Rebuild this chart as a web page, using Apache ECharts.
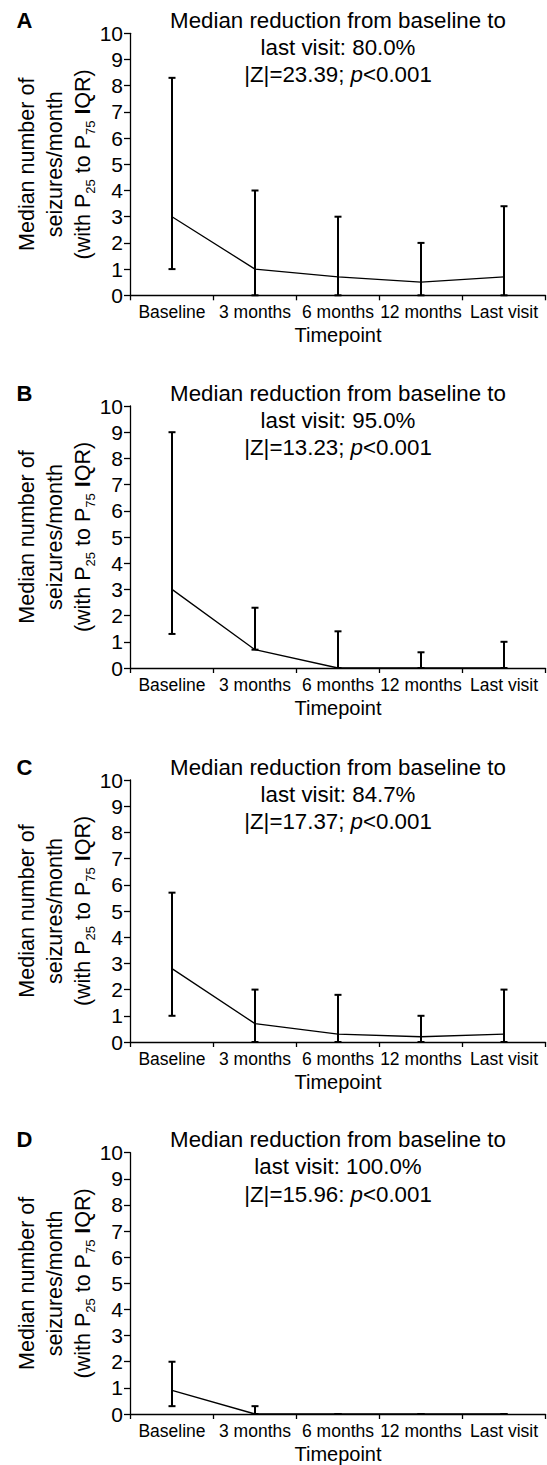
<!DOCTYPE html>
<html>
<head>
<meta charset="utf-8">
<style>
html,body{margin:0;padding:0;background:#fff;}
#chart{width:547px;height:1465px;}
</style>
<script src="https://cdn.jsdelivr.net/npm/echarts@6/dist/echarts.min.js"></script>
</head>
<body>
<div id="chart"></div>
<script>
// ---- data ----
const categories = ['Baseline', '3 months', '6 months', '12 months', 'Last visit'];
const panelLetters = ['A', 'B', 'C', 'D'];
const reductionPct = ['80.0%', '95.0%', '84.7%', '100.0%'];
const zStats = ['23.39', '13.23', '17.37', '15.96'];
const zSep = [';', ';', ';', ':'];
const pText = ['<0.001', '<0.001', '<0.001', '<0.001'];

const medianA = [3.0, 1.0, 0.7, 0.5, 0.7];
const p25A    = [1.0, 0.0, 0.0, 0.0, 0.0];
const p75A    = [8.3, 4.0, 3.0, 2.0, 3.4];

const medianB = [3.0, 0.7, 0.0, 0.0, 0.0];
const p25B    = [1.3, 0.7, 0.0, 0.0, 0.0];
const p75B    = [9.0, 2.3, 1.4, 0.6, 1.0];

const medianC = [2.8, 0.7, 0.3, 0.2, 0.3];
const p25C    = [1.0, 0.0, 0.0, 0.0, 0.0];
const p75C    = [5.7, 2.0, 1.8, 1.0, 2.0];

const medianD = [0.9, 0.0, 0.0, 0.0, 0.0];
const p25D    = [0.3, 0.0, 0.0, 0.0, 0.0];
const p75D    = [2.0, 0.3, 0.0, 0.0, 0.0];

const medians = [medianA, medianB, medianC, medianD];
const p25s = [p25A, p25B, p25C, p25D];
const p75s = [p75A, p75B, p75C, p75D];

// ---- layout ----
const FONT = 'Liberation Sans, Arial, Helvetica, sans-serif';
const panelTops = [33.3, 406, 780, 1152.7];
const gridLeft = 130.5, gridWidth = 415, gridHeight = 262;
const plotCenter = gridLeft + gridWidth / 2;

const yName = '{n|Median number of}\n{n|seizures/month}\n{n|(with P}{s|25}{n| to P}{s|75}{n| }{b|I}{n|QR)}';
const yNameRich = {
  n: {fontFamily: FONT, fontSize: 21.5, lineHeight: 28, color: '#000'},
  b: {fontFamily: FONT, fontSize: 21.5, lineHeight: 28, color: '#000', fontWeight: 'bold'},
  s: {fontFamily: FONT, fontSize: 13, lineHeight: 10, color: '#000', verticalAlign: 'bottom'}
};

const axisLineStyle = {color: '#000', width: 1.3};

const grids = [], xAxes = [], yAxes = [], series = [], graphics = [];

panelTops.forEach((top, i) => {
  grids.push({left: gridLeft, top: top, width: gridWidth, height: gridHeight});
  xAxes.push({
    type: 'category', gridIndex: i, data: categories, boundaryGap: true,
    axisLine: {show: true, lineStyle: axisLineStyle},
    axisTick: {show: true, length: 5, alignWithLabel: false, lineStyle: axisLineStyle},
    axisLabel: {color: '#000', fontFamily: FONT, fontSize: 17.5, margin: 8, interval: 0},
    splitLine: {show: false},
    name: 'Timepoint', nameLocation: 'middle', nameGap: 30, nameMoveOverlap: false,
    nameTextStyle: {color: '#000', fontFamily: FONT, fontSize: 20}
  });
  yAxes.push({
    type: 'value', gridIndex: i, min: 0, max: 10, interval: 1,
    axisLine: {show: true, lineStyle: axisLineStyle},
    axisTick: {show: true, length: 6.5, lineStyle: axisLineStyle},
    axisLabel: {color: '#000', fontFamily: FONT, fontSize: 21, margin: 7.5},
    splitLine: {show: false},
    name: yName, nameLocation: 'middle', nameRotate: 90, nameGap: 34, nameMoveOverlap: false,
    nameTextStyle: {rich: yNameRich}
  });
  series.push({
    type: 'line', xAxisIndex: i, yAxisIndex: i, data: medians[i],
    symbol: 'none', lineStyle: {color: '#000', width: 1.3}, silent: true, z: 3
  });
  series.push({
    type: 'custom', xAxisIndex: i, yAxisIndex: i,
    data: categories.map((c, j) => [j, p25s[i][j], p75s[i][j]]),
    encode: {x: 0, y: [1, 2]},
    silent: true, z: 4,
    renderItem: function (params, api) {
      const x = api.value(0);
      const lo = api.coord([x, api.value(1)]);
      const hi = api.coord([x, api.value(2)]);
      const w = 3.5;
      const st = {stroke: '#000', lineWidth: 2};
      return {
        type: 'group',
        children: [
          {type: 'line', shape: {x1: lo[0], y1: lo[1], x2: hi[0], y2: hi[1]}, style: st},
          {type: 'line', shape: {x1: hi[0] - w, y1: hi[1], x2: hi[0] + w, y2: hi[1]}, style: st},
          {type: 'line', shape: {x1: lo[0] - w, y1: lo[1], x2: lo[0] + w, y2: lo[1]}, style: st}
        ]
      };
    }
  });
  // title text
  graphics.push({
    type: 'text', x: plotCenter, y: top - 26.5, silent: true,
    style: {
      text: '{t|Median reduction from baseline to}\n{t|last visit: ' + reductionPct[i] + '}\n{t||Z|=' + zStats[i] + zSep[i] + ' }{i|p}{t|' + pText[i] + '}',
      align: 'center', textAlign: 'center', verticalAlign: 'top', textVerticalAlign: 'top',
      rich: {
        t: {fontFamily: FONT, fontSize: 22.3, lineHeight: 27.2, fill: '#000', color: '#000'},
        i: {fontFamily: FONT, fontSize: 22.3, lineHeight: 27.2, fill: '#000', color: '#000', fontStyle: 'italic'}
      }
    }
  });
  // panel letter
  graphics.push({
    type: 'text', x: 16.5, y: top - 12.8, silent: true,
    style: {
      text: panelLetters[i], fill: '#000',
      font: 'bold 22px ' + FONT,
      align: 'left', textAlign: 'left', verticalAlign: 'middle', textVerticalAlign: 'middle'
    }
  });
});

const chart = echarts.init(document.getElementById('chart'), null, {renderer: 'svg'});
chart.setOption({
  animation: false,
  backgroundColor: '#fff',
  grid: grids,
  xAxis: xAxes,
  yAxis: yAxes,
  series: series,
  graphic: graphics
});
</script>
</body>
</html>
